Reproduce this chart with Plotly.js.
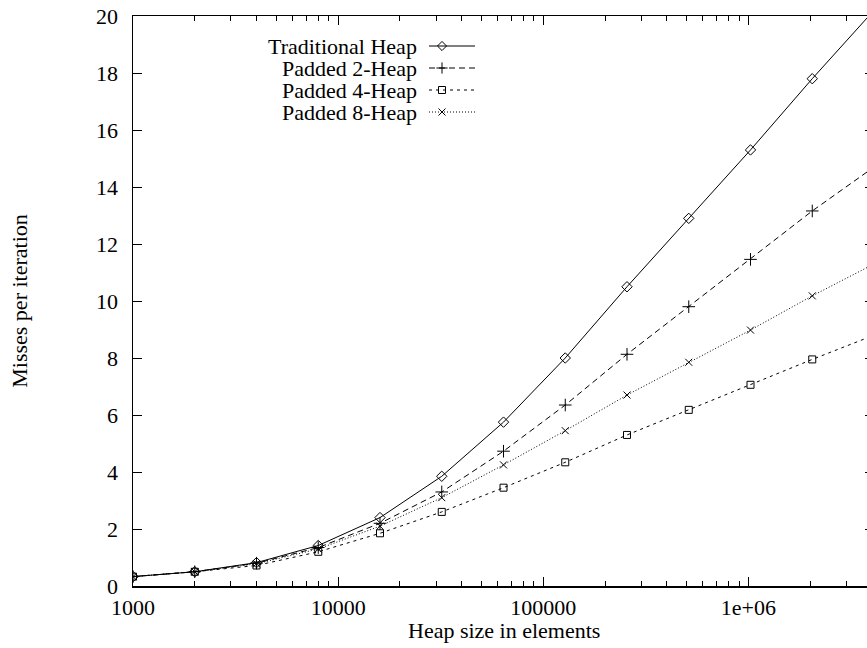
<!DOCTYPE html>
<html><head><meta charset="utf-8">
<script src="https://cdn.plot.ly/plotly-3.0.1.min.js"></script>
<style>html,body{margin:0;padding:0;overflow:hidden;background:#fff}#chart{width:880px;height:648px}</style>
</head><body><div id="chart"></div>
<script>
const heapSizes = [1000, 2000, 4000, 8000, 16000, 32000, 64000, 128000, 256000, 512000, 1024000, 2048000, 4096000];
const traditional = [0.33, 0.5, 0.82, 1.42, 2.4, 3.85, 5.75, 8.0, 10.5, 12.9, 15.3, 17.8, 20.2];
const padded2 = [0.33, 0.5, 0.8, 1.35, 2.2, 3.3, 4.73, 6.35, 8.13, 9.8, 11.46, 13.16, 14.7];
const padded4 = [0.33, 0.5, 0.72, 1.2, 1.85, 2.6, 3.45, 4.34, 5.3, 6.18, 7.06, 7.95, 8.8];
const padded8 = [0.33, 0.5, 0.78, 1.3, 2.1, 3.1, 4.25, 5.45, 6.7, 7.85, 8.98, 10.18, 11.3];
const seriesNames = ["Traditional Heap", "Padded 2-Heap", "Padded 4-Heap", "Padded 8-Heap"];
const xTickVals = [1000, 10000, 100000, 1000000];
const xTickText = ["1000", "10000", "100000", "1e+06"];
const yTickVals = [0, 2, 4, 6, 8, 10, 12, 14, 16, 18, 20];
const xTitle = "Heap size in elements";
const yTitle = "Misses per iteration";

const FONT = "Liberation Serif, Times New Roman, serif";
const FS = 22;
const styles = [
  {dash: "solid", symbol: "diamond-open", size: 8, lsize: 7},
  {dash: "6px,4px", symbol: "cross-thin-open", size: 9, lsize: 8},
  {dash: "3px,4px", symbol: "square-open", size: 7, lsize: 7},
  {dash: "1px,2px", symbol: "x-thin-open", size: 7, lsize: 7}
];
const allSeries = [traditional, padded2, padded4, padded8];

const traces = [];
allSeries.forEach((ys, i) => {
  traces.push({
    x: heapSizes, y: ys, name: seriesNames[i], type: "scatter", mode: "lines+markers",
    line: {color: "#000", width: 1, dash: styles[i].dash},
    marker: {symbol: styles[i].symbol, size: styles[i].size, color: "#000", line: {color: "#000", width: 1}},
    showlegend: false, cliponaxis: true, hoverinfo: "skip"
  });
});

// legend samples drawn on a pixel-coordinate overlay axis
const legendTop = 46, legendStep = 22;
const annotations = [];
seriesNames.forEach((name, i) => {
  const yy = legendTop + i * legendStep;
  traces.push({
    x: [429, 475], y: [yy, yy], xaxis: "x2", yaxis: "y2", type: "scatter", mode: "lines",
    line: {color: "#000", width: 1, dash: styles[i].dash}, showlegend: false, hoverinfo: "skip"
  });
  traces.push({
    x: [442], y: [yy], xaxis: "x2", yaxis: "y2", type: "scatter", mode: "markers",
    marker: {symbol: styles[i].symbol, size: styles[i].lsize, color: "#000", line: {color: "#000", width: 1}},
    showlegend: false, hoverinfo: "skip"
  });
  annotations.push({
    xref: "x2", yref: "y2", x: 419, y: yy, text: name, showarrow: false,
    xanchor: "right", yanchor: "middle", font: {family: FONT, size: FS, color: "#000"}
  });
});
annotations.push({
  xref: "paper", yref: "paper", x: 0.5, y: -44 / 570, text: xTitle, showarrow: false,
  xanchor: "center", yanchor: "middle", font: {family: FONT, size: FS, color: "#000"}
});

const layout = {
  width: 880, height: 648,
  margin: {l: 133, r: 6, t: 16, b: 62},
  paper_bgcolor: "#fff", plot_bgcolor: "#fff",
  font: {family: FONT, size: FS, color: "#000"},
  showlegend: false,
  xaxis: {
    type: "log", range: [3, Math.log10(4096000)],
    tickvals: xTickVals, ticktext: xTickText,
    ticks: "inside", ticklen: 9, tickwidth: 1, tickcolor: "#000", ticklabelstandoff: 1,
    minor: {ticks: "inside", ticklen: 5, tickwidth: 1, tickcolor: "#000", dtick: "D1", showgrid: false},
    showline: true, linecolor: "#000", linewidth: 1.5, mirror: "allticks",
    showgrid: false, zeroline: false,
    tickfont: {family: FONT, size: FS}
  },
  yaxis: {
    range: [0, 20], tickvals: yTickVals,
    ticks: "inside", ticklen: 9, tickwidth: 1, tickcolor: "#000", ticklabelstandoff: 9,
    showline: true, linecolor: "#000", linewidth: 1.5, mirror: "allticks",
    showgrid: false, zeroline: false,
    title: {text: yTitle, font: {family: FONT, size: FS}, standoff: 62},
    tickfont: {family: FONT, size: FS}
  },
  xaxis2: {overlaying: "x", range: [133, 874], visible: false, fixedrange: true},
  yaxis2: {overlaying: "y", range: [586, 16], visible: false, fixedrange: true},
  annotations: annotations
};

Plotly.newPlot("chart", traces, layout, {displayModeBar: false, staticPlot: true});
</script></body></html>
